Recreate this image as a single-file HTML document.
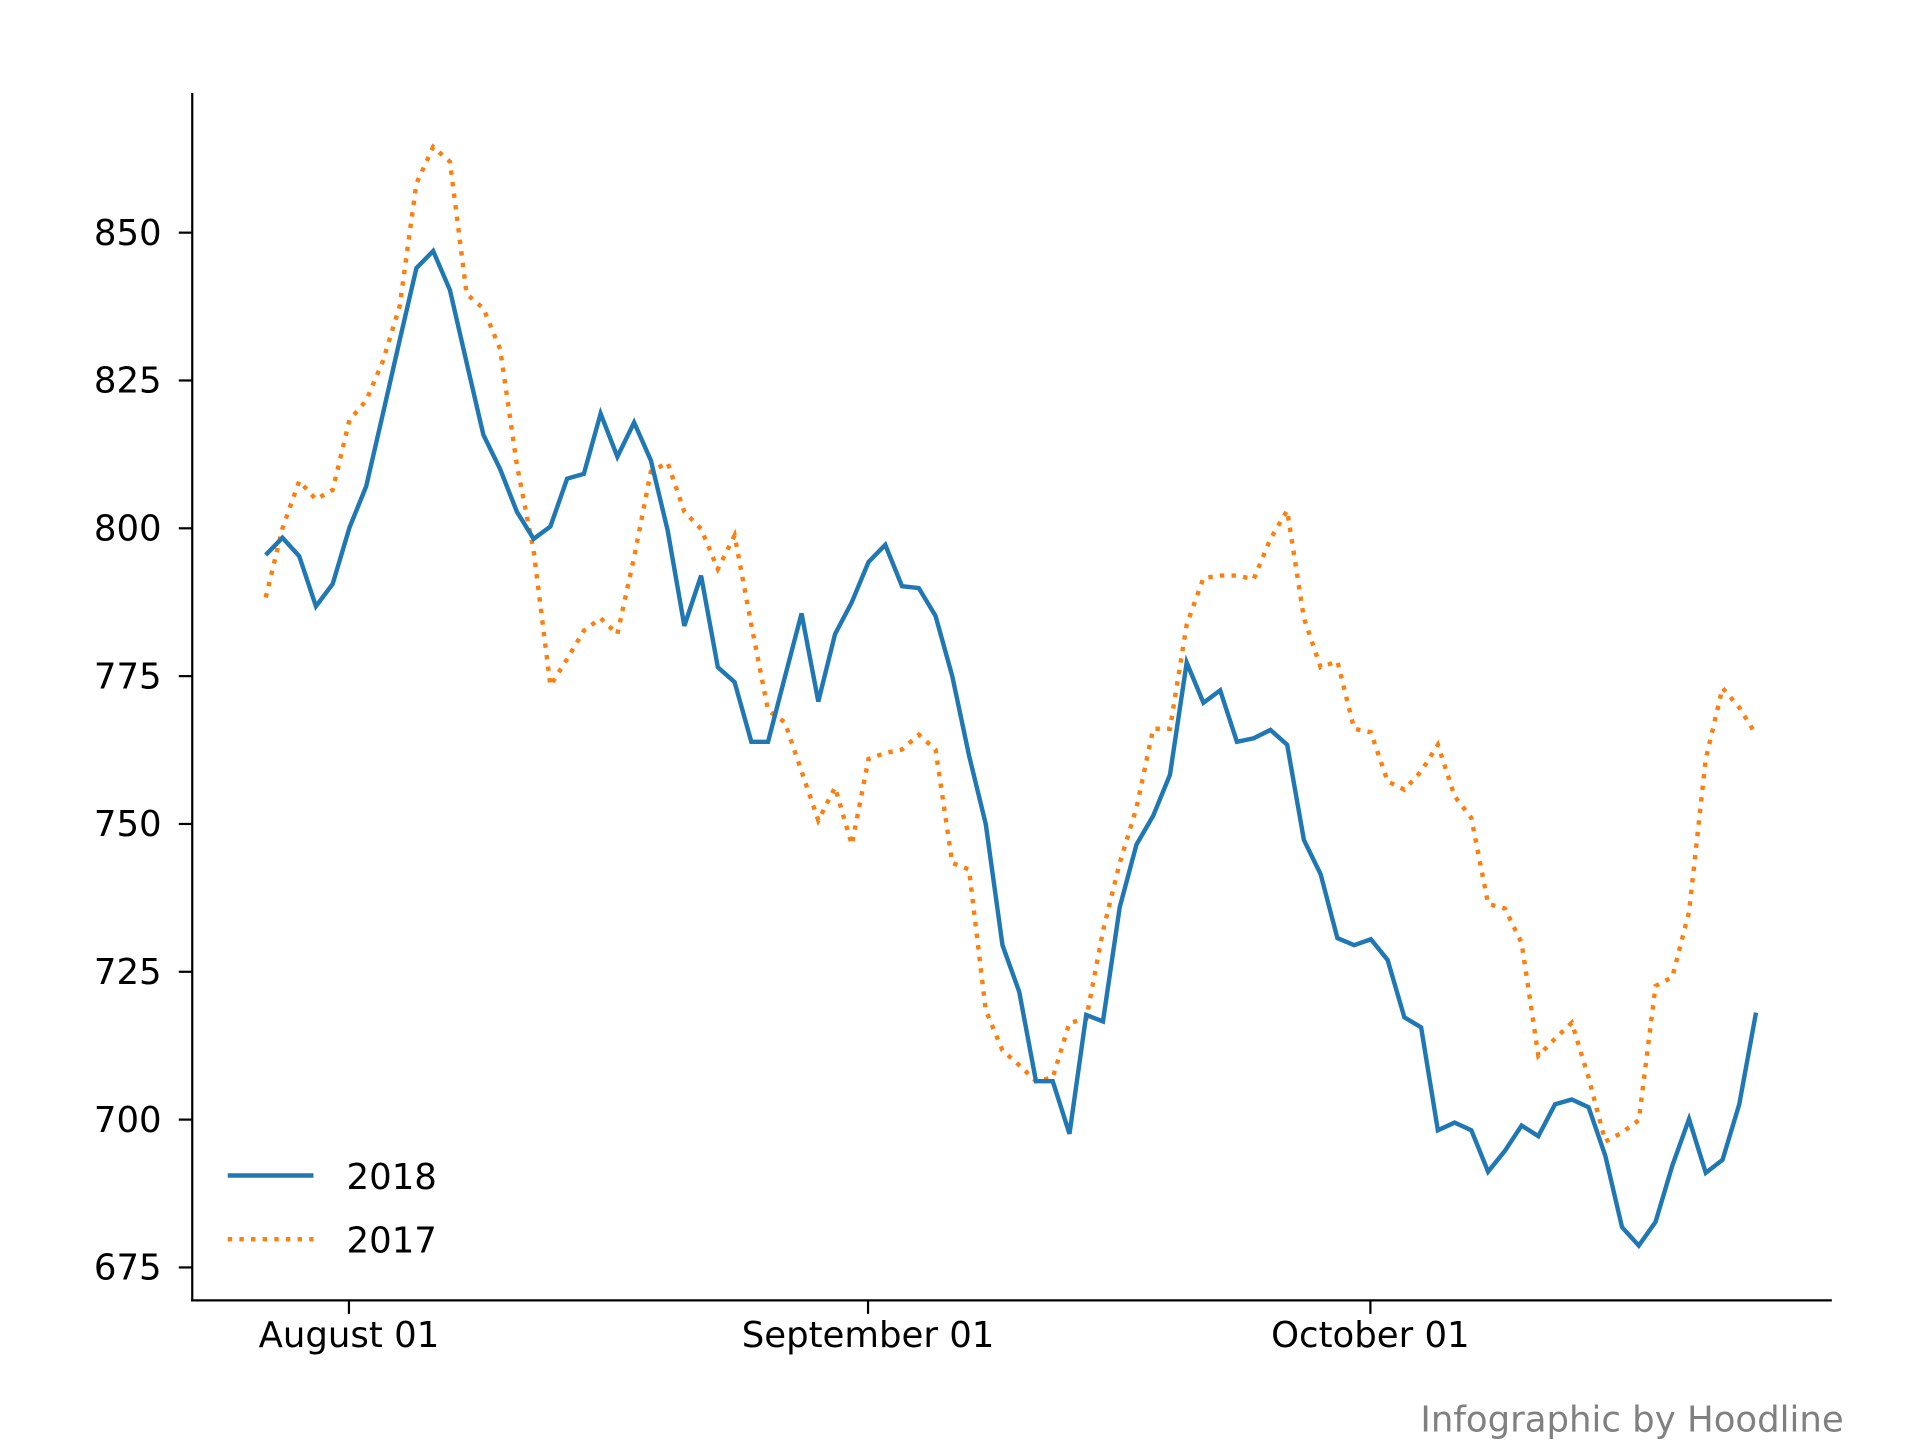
<!DOCTYPE html>
<html><head><meta charset="utf-8">
<style>html,body{margin:0;padding:0;background:#fff}svg{display:block}text{font-family:"DejaVu Sans","Liberation Sans",sans-serif}</style>
</head><body>
<svg id="chart" width="1920" height="1440" viewBox="0 0 1568 1176" xmlns="http://www.w3.org/2000/svg">
<rect width="1568" height="1176" fill="#fff"/>
<g id="axes"></g>
<g id="series"></g>
<g>
<line x1="186" y1="960" x2="256" y2="960" stroke="#1f77b4" stroke-width="3.6"/>
<text x="283" y="971" font-size="29">2018</text>
<line x1="186" y1="1012" x2="256" y2="1012" stroke="#ff7f0e" stroke-width="3.6" stroke-dasharray="3.6,5.9"/>
<text x="283" y="1023" font-size="29">2017</text>
</g>
<text x="1160" y="1169" font-size="29" fill="#808080">Infographic by Hoodline</text>
</svg>
<script>
const yTicks = [675, 700, 725, 750, 775, 800, 825, 850];
const xTickDays = [5, 36, 66];
const xTickLabels = ["August 01", "September 01", "October 01"];
const series2018 = [795.5,798.4,795.3,786.8,790.6,800.1,807.1,819.4,831.8,844,846.9,840.3,828,815.8,810,802.8,798.2,800.3,808.4,809.2,819.4,812.1,817.9,811.5,799.7,783.5,792,776.5,774,763.9,763.9,774.8,785.6,770.7,782.1,787.5,794.3,797.2,790.2,789.9,785.2,775,761.6,750,729.5,721.6,706.5,706.5,697.6,717.7,716.6,735.9,746.5,751.4,758.3,777.3,770.5,772.6,763.9,764.5,765.9,763.4,747.3,741.5,730.7,729.5,730.5,727,717.3,715.6,698.2,699.5,698.2,691.2,694.7,699,697.2,702.6,703.4,702.1,693.9,681.8,678.7,682.7,692.2,700.1,691,693.2,702.6,718.1];
const series2017 = [788.3,800,808,804.9,806.5,818.3,821.6,828.3,837.6,858.3,864.5,862,839.6,837.2,830.3,810.7,796.2,773.4,777.9,782.7,784.8,782.1,795.1,809.6,811.1,802.8,799.9,793.1,798.8,783.7,769.2,767.2,758.9,750.6,756.2,746.5,761,762,762.6,765.1,762.6,743.4,742.3,718.5,711.7,709.2,706.5,707.1,716.4,717,731.9,743.4,752.7,766.1,766.1,783.7,791.6,792,792,791.4,798.2,803,784.8,776.5,777.5,766.1,765.5,757.2,755.8,758.9,763.4,754.7,751,736.5,735.7,729.9,710.8,713.7,716.4,707.1,696.3,697.8,699.9,722.6,724.1,735.1,761,773,769.7,765.1];

const NS = "http://www.w3.org/2000/svg";
const X0 = 217, DX = 13.675;
function xs(i){ return X0 + i*DX; }
function ys(v){ return 190 + (850 - v)*4.829; }
function mk(tag, attrs, parent){ const e=document.createElementNS(NS,tag); for(const k in attrs) e.setAttribute(k, attrs[k]); parent.appendChild(e); return e; }

const axes = document.getElementById('axes');
const yAxis = mk('line',{x1:157,y1:76,x2:157,y2:1062,stroke:'#000','stroke-width':1.8},axes);


const xAxis = mk('line',{x1:156,y1:1062,x2:1496,y2:1062,stroke:'#000','stroke-width':1.8},axes);


yTicks.forEach(v=>{
  const y = ys(v);
  const t = mk('line',{x1:146,y1:y,x2:157,y2:y,stroke:'#000','stroke-width':1.8},axes);
  
  
  const l = mk('text',{x:132,y:y+10,'font-size':29,'text-anchor':'end'},axes);
  
  
  l.textContent = v;
});
xTickDays.forEach((d,i)=>{
  const x = xs(d) - 0.4;
  const t = mk('line',{x1:x,y1:1062,x2:x,y2:1073,stroke:'#000','stroke-width':1.8},axes);
  
  
  const l = mk('text',{x:x,y:1100,'font-size':29,'text-anchor':'middle'},axes);
  
  
  l.textContent = xTickLabels[i];
});

const sg = document.getElementById('series');
function pts(arr){ return arr.map((v,i)=>xs(i).toFixed(2)+','+ys(v).toFixed(2)).join(' '); }
const l17 = mk('polyline',{points:pts(series2017),fill:'none',stroke:'#ff7f0e','stroke-width':3.6,'stroke-dasharray':'3.6,5.9'},sg);


const l18 = mk('polyline',{points:pts(series2018),fill:'none',stroke:'#1f77b4','stroke-width':3.6},sg);


</script>
</body></html>
